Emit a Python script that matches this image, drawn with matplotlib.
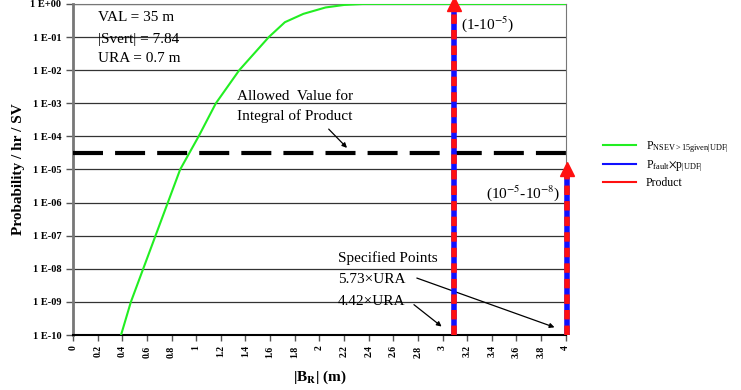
import numpy as np
import matplotlib
matplotlib.use("Agg")
import matplotlib.pyplot as plt

plt.rcParams['font.family'] = ['Liberation Serif', 'DejaVu Serif']
plt.rcParams['mathtext.fontset'] = 'stix'

# green curve: P(NSEV>15 | UDF)
bias_m = [0.39, 0.47, 0.57, 0.67, 0.77, 0.87, 1.02, 1.16, 1.35, 1.59, 1.72, 1.87, 2.05, 2.2, 2.36, 4.0]
p_nsev = [1e-10, 1e-9, 1e-8, 1e-7, 1e-6, 1e-5, 1e-4, 1e-3, 1e-2, 1e-1, 0.28, 0.5, 0.78, 0.93, 1.0, 1.0]

ura = 0.7
spec_mult = [4.42, 5.73]
spec_top = [1.0, 1e-5]
allowed = 3.16e-5

xticks = np.round(np.arange(0, 4.01, 0.2), 1)
yticks = [10.0 ** -k for k in range(0, 11)]

fig = plt.figure(figsize=(7.41, 3.9), dpi=100)
ax = fig.add_axes([0.0985, 0.141, 0.665, 0.849])

for yv in yticks:
    ax.axhline(yv, color='#333333', lw=0.9, zorder=1)

ax.plot(bias_m, p_nsev, color='#22ee22', lw=1.5, zorder=3)
ax.axhline(allowed, color='black', lw=3, dashes=(7.2, 2.9), zorder=4)

for m, top in zip(spec_mult, spec_top):
    xv = m * ura
    ax.plot([xv, xv], [1e-10, top], color='#1010ff', lw=4, zorder=5,
            solid_capstyle='butt', clip_on=False)
    ax.plot([xv, xv], [1e-10, top], color='#ff1010', lw=4, dashes=(1.7, 1.1),
            zorder=6, clip_on=False)
    ax.plot([xv], [top], marker='^', color='#ff1010', markersize=10, zorder=7, clip_on=False)

ax.set_xlim(0, 4)
ax.set_ylim(1e-10, 1)
ax.set_yscale('log')
ax.set_xticks(xticks)
ax.set_xticklabels([f"{v:g}" for v in xticks], rotation=90, fontsize=7, fontweight='bold')
ax.set_yticks(yticks)
ax.set_yticklabels([f"1 E{int(np.log10(v)):+03d}" for v in yticks], fontsize=7.5, fontweight='bold')
ax.minorticks_off()
ax.tick_params(length=4, width=1, color='#555555')
ax.tick_params(axis='y', length=5)
for s in ['left', 'top', 'right']:
    ax.spines[s].set_color('#777777')
ax.spines['left'].set_linewidth(2)
ax.spines['bottom'].set_color('black')
ax.spines['bottom'].set_linewidth(1.5)

ax.set_ylabel('Probability / hr / SV', fontsize=11, fontweight='bold', labelpad=4)
ax.set_xlabel(r'|B$_\mathbf{R}$| (m)', fontsize=11, fontweight='bold', labelpad=8)

tk = dict(fontsize=11, va='center')
ax.text(0.20, 0.38, 'VAL = 35 m', **tk)
ax.text(0.20, 0.087, '|Svert| = 7.84', **tk)
ax.text(0.20, 0.023, 'URA = 0.7 m', **tk)
ax.text(1.33, 1.55e-3, 'Allowed  Value for', **tk)
ax.text(1.33, 4.1e-4, 'Integral of Product', **tk)
ax.text(3.15, 0.25, r'(1-10$^{-5}$)', **tk)
ax.text(3.35, 1.95e-6, r'(10$^{-5}$-10$^{-8}$)', **tk)
ax.text(2.15, 2.1e-8, 'Specified Points', **tk)
ax.text(2.15, 4.6e-9, '5.73\u00d7URA', **tk)
ax.text(2.15, 1.0e-9, '4.42\u00d7URA', **tk)

ap = dict(arrowstyle='-|>', color='black', lw=0.9, mutation_scale=7)
ax.annotate('', xy=(2.24, 3.9e-5), xytext=(2.06, 1.9e-4), arrowprops=ap)
ax.annotate('', xy=(3.93, 1.6e-10), xytext=(2.77, 5.6e-9), arrowprops=ap)
ax.annotate('', xy=(3.01, 1.6e-10), xytext=(2.75, 9.3e-10), arrowprops=ap)

h1, = ax.plot([], [], color='#22ee22', lw=1.5)
h2, = ax.plot([], [], color='#1010ff', lw=1.5)
h3, = ax.plot([], [], color='#ff1010', lw=1.5)
fig.legend([h1, h2, h3],
           [r'P$_{\mathregular{NSEV>15given|UDF|}}$', r'P$_{\mathregular{fault}}$$\times$p$_{\mathregular{|UDF|}}$', 'Product'],
           loc='upper left', bbox_to_anchor=(0.80, 0.67), frameon=False, fontsize=8.5,
           handlelength=2.8, labelspacing=0.3, handletextpad=0.8)

fig.savefig('out.png', dpi=100)
